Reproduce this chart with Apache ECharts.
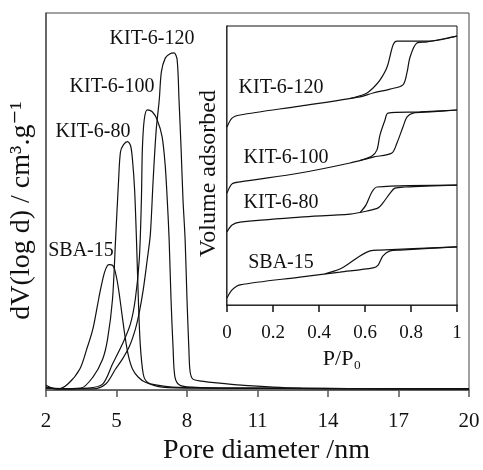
<!DOCTYPE html>
<html>
<head>
<meta charset="utf-8">
<script src="https://cdn.jsdelivr.net/npm/echarts@6/dist/echarts.min.js"></script>
<style>
  html, body { margin: 0; padding: 0; background: #fff; }
  #chart { width: 483px; height: 470px; }
</style>
</head>
<body>
<div id="chart"></div>
<script>
// pore size distribution, [pore diameter nm, dV(log d)]
var psdSBA15 = [[2.0,1.3],[2.3,0.5],[2.51,0.3],[2.93,1.6],[3.44,5.6],[3.73,10.8],[3.99,16.1],[4.2,22.8],[4.32,26.7],[4.49,31.2],[4.62,33.1],[4.7,33.3],[4.83,33.1],[4.92,32.0],[5.04,28.6],[5.13,24.9],[5.25,19.3],[5.38,13.5],[5.51,9.0],[5.68,5.6],[5.93,3.4],[6.23,2.1],[6.94,0.8],[8.63,0.5],[20,0.3]];
var psdKIT80 = [[2.0,0.8],[2.51,0.3],[3.48,0.5],[3.99,3.4],[4.41,8.2],[4.62,13.5],[4.83,24.1],[4.96,39.9],[5.09,55.8],[5.17,63.2],[5.3,65.1],[5.47,65.9],[5.6,64.8],[5.68,61.1],[5.77,53.2],[5.85,39.9],[5.93,24.1],[6.01,12.2],[6.14,4.2],[6.31,2.1],[6.73,1.3],[7.37,0.8],[10.75,0.5],[20,0.3]];
var psdKIT100 = [[2.0,0.5],[2.72,0.3],[3.78,0.5],[4.41,1.6],[4.83,6.9],[5.25,12.2],[5.59,17.5],[5.8,24.1],[5.97,34.7],[6.06,50.5],[6.1,63.8],[6.18,71.7],[6.31,74.3],[6.52,73.8],[6.73,71.7],[6.94,67.2],[7.07,59.8],[7.16,50.5],[7.24,39.9],[7.32,24.1],[7.41,10.8],[7.49,3.4],[7.7,1.3],[8.21,0.8],[9.9,0.5],[20,0.3]];
var psdKIT120 = [[2.0,0.5],[3.14,0.3],[3.99,0.3],[4.54,1.6],[4.96,5.6],[5.25,8.2],[5.55,11.6],[5.8,16.1],[5.97,20.6],[6.14,26.7],[6.31,34.7],[6.44,41.3],[6.56,55.8],[6.69,69.0],[6.82,77.0],[6.91,84.4],[7.08,88.1],[7.28,89.2],[7.45,89.4],[7.58,87.6],[7.66,77.0],[7.75,63.8],[7.83,50.5],[7.92,39.9],[8.0,24.1],[8.08,10.8],[8.13,5.0],[8.25,2.9],[8.63,2.4],[9.27,1.9],[10.32,1.3],[12.86,0.5],[20,0.3]];

// isotherms (inset), [P/P0, volume adsorbed incl. vertical offset]
var adsSBA15 = [[0,2.5],[0.022,5.4],[0.057,7.2],[0.317,10.0],[0.491,11.8],[0.635,13.3],[0.657,14.3],[0.678,17.6],[0.709,19.4],[0.752,19.7],[1,20.8]];
var desSBA15 = [[1,20.8],[0.665,19.7],[0.622,19.4],[0.578,17.6],[0.535,15.1],[0.491,12.9],[0.426,11.2]];
var adsKIT80 = [[0,26.2],[0.022,28.7],[0.057,29.7],[0.317,31.5],[0.535,32.6],[0.609,33.7],[0.657,34.8],[0.678,36.6],[0.709,40.1],[0.73,41.9],[0.774,42.3],[1,43.0]];
var desKIT80 = [[1,43.0],[0.652,42.3],[0.63,40.5],[0.604,35.8],[0.578,33.1]];
var adsKIT100 = [[0,40.1],[0.022,43.4],[0.057,44.1],[0.317,47.3],[0.535,50.9],[0.635,53.0],[0.717,54.5],[0.739,58.1],[0.765,63.8],[0.783,67.4],[0.809,68.8],[0.883,69.2],[1,69.9]];
var desKIT100 = [[1,69.9],[0.839,69.2],[0.7,68.8],[0.687,66.3],[0.665,60.9],[0.652,55.6],[0.63,53.4],[0.578,51.8]];
var adsKIT120 = [[0,63.8],[0.022,67.0],[0.057,68.1],[0.317,71.3],[0.578,74.6],[0.635,76.0],[0.709,77.4],[0.765,78.9],[0.783,83.5],[0.796,88.9],[0.826,93.9],[0.87,94.3],[0.983,96.1],[1,96.4]];
var desKIT120 = [[1,96.4],[0.883,94.6],[0.739,94.6],[0.722,93.2],[0.696,85.3],[0.665,80.6],[0.635,77.8],[0.6,75.6],[0.535,74.0]];

var sampleNames = ['SBA-15', 'KIT-6-80', 'KIT-6-100', 'KIT-6-120'];

var serif = '"Liberation Serif", "DejaVu Serif", serif';

function line(data, xi, yi) {
  return {
    type: 'line',
    xAxisIndex: xi,
    yAxisIndex: yi,
    data: data,
    showSymbol: false,
    smooth: 0.3,
    lineStyle: { color: '#111', width: 1.2 },
    animation: false
  };
}

function txt(s, x, y, size) {
  return {
    type: 'text',
    x: x,
    y: y,
    z: 100,
    style: {
      text: s,
      font: size + 'px ' + serif,
      fill: '#111',
      align: 'center',
      verticalAlign: 'middle'
    }
  };
}

var chart = echarts.init(document.getElementById('chart'));
var option = {
  backgroundColor: '#fff',
  grid: [
    { left: 43, top: 13, right: 14, bottom: 79, show: true, borderColor: '#444', borderWidth: 1 },
    { left: 227, top: 26, width: 230, height: 279, show: true, borderColor: '#111', borderWidth: 1, backgroundColor: '#fff', z: 3 }
  ],
  xAxis: [
    {
      gridIndex: 0, type: 'value', min: 2, max: 20, interval: 3,
      name: 'Pore diameter /nm', nameLocation: 'middle', nameGap: 38,
      nameTextStyle: { fontFamily: serif, fontSize: 28, color: '#111', padding: [0, 0, 0, 18] },
      axisLine: { lineStyle: { color: '#555', width: 1.5 } },
      axisTick: { inside: false, length: 7, lineStyle: { color: '#555', width: 1.5 } },
      axisLabel: { margin: 21, fontFamily: serif, fontSize: 21, color: '#111' },
      splitLine: { show: false }
    },
    {
      gridIndex: 1, type: 'value', min: 0, max: 1, interval: 0.2,
      name: 'P/P\u2080', nameLocation: 'middle', nameGap: 40,
      nameTextStyle: { fontFamily: serif, fontSize: 22, color: '#111' },
      axisLine: { lineStyle: { color: '#111', width: 1.5 } },
      axisTick: { inside: false, length: 7, lineStyle: { color: '#111', width: 1.5 } },
      axisLabel: { margin: 19, fontFamily: serif, fontSize: 19, color: '#111' },
      splitLine: { show: false }
    }
  ],
  yAxis: [
    {
      gridIndex: 0, type: 'value', min: 0, max: 100,
      name: 'dV(log d) / cm\u00b3.g\u207b\u00b9', nameLocation: 'middle', nameGap: 10,
      nameTextStyle: { fontFamily: serif, fontSize: 28, color: '#111', padding: [0, 18, 0, 0] },
      axisLine: { show: true, lineStyle: { color: '#555', width: 1.5 } },
      axisTick: { show: false },
      axisLabel: { show: false },
      splitLine: { show: false }
    },
    {
      gridIndex: 1, type: 'value', min: 0, max: 100,
      name: 'Volume adsorbed', nameLocation: 'middle', nameGap: 6,
      nameTextStyle: { fontFamily: serif, fontSize: 24, color: '#111', padding: [0, 16, 0, 0] },
      axisLine: { show: true, lineStyle: { color: '#111', width: 1.5 } },
      axisTick: { show: false },
      axisLabel: { show: false },
      splitLine: { show: false }
    }
  ],
  series: [
    line(psdSBA15, 0, 0), line(psdKIT80, 0, 0), line(psdKIT100, 0, 0), line(psdKIT120, 0, 0),
    line(adsSBA15, 1, 1), line(desSBA15, 1, 1),
    line(adsKIT80, 1, 1), line(desKIT80, 1, 1),
    line(adsKIT100, 1, 1), line(desKIT100, 1, 1),
    line(adsKIT120, 1, 1), line(desKIT120, 1, 1)
  ],
  graphic: [
    txt(sampleNames[0], 81, 251, 20),
    txt(sampleNames[1], 93, 132, 20),
    txt(sampleNames[2], 112, 87, 20),
    txt(sampleNames[3], 152, 39, 20),
    txt(sampleNames[0], 281, 263, 20),
    txt(sampleNames[1], 281, 203, 20),
    txt(sampleNames[2], 286, 158, 20),
    txt(sampleNames[3], 281, 88, 20)
  ]
};
chart.setOption(option);
</script>
</body>
</html>
